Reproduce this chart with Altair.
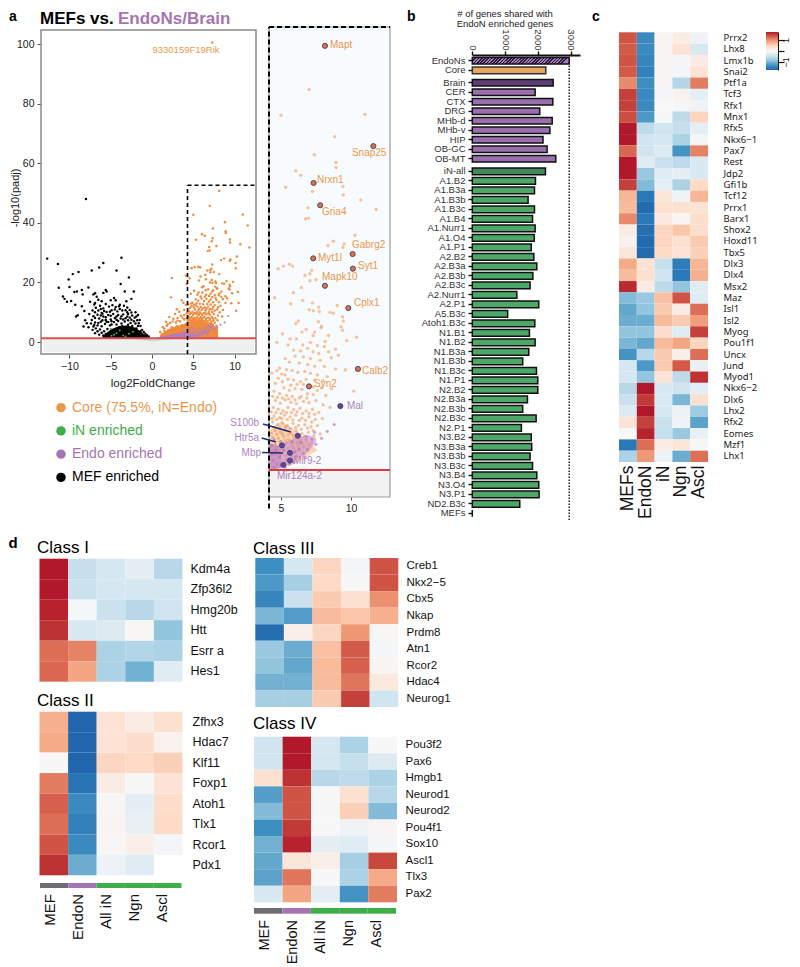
import altair as alt
import pandas as pd

W, H = 784, 959
PURPLE, ORANGE, GREEN = "#a575b2", "#e8984a", "#3fae49"
DIVERGING = ["#2166ac", "#4393c3", "#92c5de", "#d1e5f0", "#f7f7f7", "#fddbc7", "#f4a582", "#d6604d", "#b2182b"]
HEAT_DOMAIN = [-4, -3, -2, -1, 0, 1, 2, 3, 4]
COLS5 = ["MEFs", "EndoN", "iN", "Ngn", "Ascl"]

# ---------- panel a: volcano points ----------
BLACK_PTS = [(-8,48),(-12.7,28),(-11.4,26.2),(-3.7,28.3),(-5.9,26.5),(-6.4,25),(-7.3,24),(-8.9,23.5),(-9.6,22.8),(-10.1,21),
 (-4.3,24),(-2.8,21.7),(-3.8,19.5),(-11.3,18.2),(-10,18.5),(-9.4,16.8),(-9.1,17),(-8.5,17.5),(-8.4,16),(-7.7,18.3),(-7.1,16),
 (-7.5,13.5),(-5.5,17),(-5.6,17.5),(-5.9,16.5),(-3.3,17),(-2.2,17),(-2.5,14.5),(-4.6,14.8),(-4.4,14),(-10.8,15.3),(-10.6,14.5),
 (-10.3,13.5),(-9.8,13.8),(-9.3,12.5),(-8.5,12),(-9,9),(-9.2,8.6),(-8.1,7.3),(-6.9,16.4),(-6.7,15.2),(-6.5,14.2),(-6.1,13.7),
 (-7,12.6),(-6.8,11.5),(-7.2,10.6),(-6.9,10),(-6.3,12.2),(-5.9,11.3),(-5.6,12.8),(-5.2,11.9),(-4.8,12.4),(-4.4,11.8),(-3.9,12.5),
 (-3.4,12.2),(-3,11.6),(-2.7,10.8),(-3.6,10.6),(-4.2,10.3),(-4.9,10.7),(-5.5,10.1),(-6.1,9.8),(-6.6,9.2),(-7.1,8.7),(-7.3,7.4),
 (-6.9,6.6),(-6.4,7.9),(-5.9,8.6),(-5.3,9.1),(-4.7,9.4),(-4.1,9.1),(-3.5,9.3),(-2.9,9.4),(-2.4,8.9),(-2.1,8.2),(-1.8,7.3),(-2.5,7.5),
 (-3.2,8),(-3.8,7.9),(-4.5,8.1),(-5,7.6),(-5.6,7.4),(-6.2,6.8),(-6.6,5.6),(-6.1,5.3),(-5.7,6.1),(-5.3,6.7),(-7.1,5.2),(-6.8,4.6),
 (-6.3,4.2),(-5.8,3.6),(-5.4,4.4),(-1.6,6.3),(-1.4,5.4),(-1.2,4.1),(-2,10),(-1.7,9.1),(-3.1,13.7),(-5,14),(-6.9,13.1),(-7.6,9.4),
 (-8.2,10.4),(-4.1,7.1),(-3.3,6.9),(-2.6,6.4),(-5.1,5.6),(-4.6,6.7),(-3.7,6.2)]
BLACK_MORE = [(-6.5,10.6),(-6.2,11.1),(-5.8,10.4),(-5.1,10.2),(-4.5,10.9),(-3.9,11.1),(-3.2,10.7),(-2.5,9.9),(-6.9,8.1),(-6.2,8.9),(-5.6,8.3),(-5,8.8),
 (-4.3,8.6),(-3.7,8.7),(-3,8.6),(-2.7,8.2),(-1.9,8.6),(-1.5,7.4),(-7.4,6.2),(-7,5.7),(-6.5,6.4),(-6,7.3),(-5.5,6.8),(-4.9,7),(-4.3,7.5),(-3.5,7.6),
 (-2.9,7.3),(-2.2,7.0),(-2,6.2),(-1.7,5.4),(-7.2,4.1),(-6.6,3.6),(-6.1,3.1),(-5.6,2.7),(-6.9,3.0),(-6.4,2.5),(-5.9,2.2),(-5.4,2.0),(-5.1,3.4),(-4.8,2.5),
 (-4.9,5.9),(-4.3,5.9),(-3.6,5.4),(-2.9,5.8),(-2.4,5.4),(-1.9,4.6),(-1.4,3.6),(-1,3.4),(-0.8,2.8),(-0.6,2.3),(-0.4,1.9),(-1.2,2.6),(-1.7,3.3),(-2.3,3.6),
 (-3,3.2),(-3.6,2.7),(-4.2,2.2),(-4.7,1.7),(-5.2,1.6),(-2.6,2.6),(-1.9,2.2),(-3.3,1.8),(-2.4,1.7),(-4,1.6),(-7.7,5),(-7.9,6.3),(-8.3,5.2),(-6,9.5),(-4,12),(-3,10)]
BLACK_ENV_X = [-6.0, -5.0, -4.0, -3.0, -2.0, -1.5, -1.0, -0.5, -0.2]
BLACK_ENV_Y = [1.9, 4.2, 5.4, 5.6, 4.8, 3.8, 2.7, 1.8, 1.3]
GREEN_PTS = [(-5.8,7.2),(-5,4.5),(-4.3,3),(-4.6,2.5),(-3.5,2.2),(-3.2,1.9),(-4.9,2.1),(-2.8,2.8),(-2.3,3.5),(-3.9,3.9)]
PALE_X = [-3.2, -1.5, 0.0, 1.5, 3.2]
PALE_Y = [1.3, 0.8, 0.1, 0.6, 1.3]

ORANGE_TOP = [(7.0,45.7),(5.0,42.7),(11.0,42.8),(8.83,40.2),(7.38,38.1),(8.93,37.2),(8.93,36.6),(6.05,36.2),(6.4,35.7),(5.33,34.3),
 (9.43,34.4),(7.24,33.8),(9.45,33.4),(10.7,32.8),(6.93,31.9),(11.8,31.7),(6.76,30.6),(6.98,30.7),(10.29,28.7),(8.74,28),(8.36,27.5),
 (9.5,27.7),(9.43,27.3),(5.83,25.1),(5.6,25.3),(5.17,25.1),(4.79,24.8),(7.19,24.6),(7.07,24.2),(6.71,24.0),(7.5,23.5),(7.07,23.4),
 (6.45,22.6),(5.88,22),(4.55,21.4),(6.55,21.1),(7.24,20.8),(5.69,20.7),(7.02,20),(7.31,19.9),(7.69,20.3),(7.74,19.8),(8.5,19.7),
 (8.74,19.6),(9.02,20.5)]
ORANGE_MID = [(6.24,18.7),(6.07,18.4),(9.4,19.2),(9.45,18.7),(7.67,18.6),(7.9,18.1),(7.86,17.9),(9.29,18),(9.4,17.6),(6.8,17.7),(6.5,17.4),
 (5.1,17.2),(4.7,16.2),(5.65,16.6),(6.1,16.6),(6.55,15.9),(7.4,17.4),(7.3,17),(8.4,17),(10.4,16.8),(8.15,16.3),(9.7,16.4),(7.1,16.2),
 (7.6,15.8),(8.1,15.7),(5.5,15.9),(5.9,15.3),(6.4,15.2),(6.9,15.5),(7.3,15.1),(7.7,14.9),(8.4,15.1),(8.9,15.4),(9.1,14.7),(8.6,14.4),
 (6.0,14.6),(6.6,14.5),(7.1,14.3),(7.8,14.1),(5.3,14.3),(5.6,13.9),(6.3,13.8),(6.9,13.6),(7.4,13.4),(8.1,13.4),(8.9,13.1),(9.6,13.0),
 (4.9,13.2),(5.4,13.0),(5.8,12.9),(6.2,12.7),(6.7,12.8),(7.1,12.6),(7.6,12.4),(8.3,12.2),(8.0,11.7),(7.4,11.8),(6.8,11.9),(6.4,11.6),
 (5.9,11.8),(5.5,11.9),(5.1,11.6),(4.8,12),(4.6,11.4),(5.2,10.9),(5.6,10.6),(6.0,10.8),(6.5,10.7),(7.6,10.6),(7.9,10.9),(8.6,10.8),
 (6.9,10.2),(7.3,10.1),(8.2,10),(10.2,10.5),(4.5,10.5),(4.9,10.2),(5.4,10),(5.8,9.9),(6.3,9.7),(4.6,9.4),(4.95,9.1),(5.3,9.5),(5.7,9.2),
 (6.1,9.05),(6.6,9.3),(7.0,9.15),(7.5,9.4),(8.0,8.9),(8.5,8.6),(4.45,8.6),(4.8,8.4),(5.15,8.2),(5.5,8.6),(5.9,8.35),(6.35,8.5),(6.8,8.2),
 (7.25,8.4),(7.7,8.0),(4.5,7.6),(4.9,7.4),(5.25,7.7),(5.65,7.5),(6.05,7.7),(6.5,7.35),(7.0,7.5),(7.45,7.2),(7.95,7.3),(4.4,6.9),(4.75,6.6),
 (5.1,6.8),(5.45,6.5),(5.85,6.75),(6.25,6.5),(6.7,6.6),(7.15,6.35),(7.6,6.5),(4.55,5.9),(4.95,5.75),(5.3,5.95),(5.7,5.6),(6.1,5.85),
 (6.5,5.55),(6.95,5.7),(7.35,5.3),(7.8,5.5),(4.4,5.1),(4.8,5.0),(5.2,5.2),(5.55,4.85),(5.95,5.0),(6.35,4.75),(6.8,4.9),(7.2,4.5),(4.6,4.3),
 (5.0,4.2),(5.35,4.4),(5.8,4.1),(6.2,4.2),(6.6,4.0),(4.4,3.6),(4.8,3.4),(5.15,3.7),(5.55,3.3),(6.0,3.5)]
ORANGE_DENSE = [(4.35,12.6),(4.7,12.9),(5.05,12.5),(5.3,12.4),(5.7,11.2),(6.15,11.3),(6.6,11.3),(7.0,11.0),(7.3,11.0),(4.4,9.9),(4.75,9.8),(5.1,9.7),(5.55,9.6),
 (6.0,9.5),(6.45,9.9),(6.85,9.7),(4.3,8.1),(4.65,8.0),(5.0,7.9),(5.4,8.0),(5.75,8.0),(6.15,8.1),(6.55,7.9),(7.0,7.9),(7.4,7.8),(4.35,7.3),(4.7,7.2),(5.05,7.3),(5.45,7.2),
 (5.85,7.15),(6.3,7.1),(6.75,7.1),(7.2,6.9),(4.55,6.3),(4.9,6.2),(5.3,6.35),(5.65,6.15),(6.05,6.25),(6.45,6.05),(6.9,6.2),(7.3,5.9),(4.3,5.6),(4.7,5.45),(5.1,5.5),
 (5.5,5.4),(5.9,5.35),(6.3,5.3),(6.7,5.25),(4.5,4.7),(4.9,4.6),(5.3,4.75),(5.75,4.5),(6.15,4.55),(6.5,4.4),(7.0,4.2),(4.3,4.05),(4.7,3.9),(5.1,4.0),(5.5,3.85),(5.9,3.8),
 (6.3,3.8),(4.3,3.2),(4.65,3.1),(5.0,3.1),(5.35,3.0),(5.75,2.9)]
ORANGE_LOW = [(2.4,21.5),(4.1,22.3),(4.2,19.5),(2.3,15),(3.6,14),(3.8,13.2),(3,11),(4.1,12.5),(3.3,10.2),(2.8,9.4),(3.9,10.8),(4.2,9.7),(3.5,8.8),
 (2.1,8.4),(2.6,7.8),(3.1,8.1),(1.7,6.8),(2.2,6.4),(2.9,6.6),(3.4,7.0),(3.9,7.6),(4.2,8.0),(1.3,5),(1.8,5.5),(2.4,5.0),(3.0,5.3),(3.6,5.6),
 (4.1,6.0),(1.0,3.4),(1.5,3.8),(2.0,4.0),(2.7,4.1),(3.3,4.3),(3.8,4.6),(1.2,2.6),(1.8,2.9),(2.3,3.1),(2.9,3.3),(3.5,3.5),(4.1,3.9),(3.7,8.2),(3.1,7.2),(2.5,6.9),(1.9,6),(1.5,4.6),(3.9,9.1)]
PURPLE_PTS = [(9.24,8.76),(8.8,6.6),(8.3,5.8),(7.9,5.0),(7.5,4.3),(7.2,4.9),(6.9,3.7),(6.6,3.2),(6.3,3.7),(6.1,2.9),(5.9,2.2),(5.7,3.2),(5.4,2.5),
 (5.2,3.6),(4.9,2.8),(4.7,2.0),(4.45,2.4),(4.4,3.2),(4.6,3.6),(4.35,4.2),(5.0,1.8),(5.3,1.6),(5.6,2.0),(4.5,1.6),(6.4,4.5),(6.8,5.2),(7.4,5.7),
 (5.8,4.6),(5.0,4.6),(4.5,4.8),(6.0,3.4),(6.7,2.8)]
ORANGE_AREA_X = [1.0, 2.0, 3.0, 4.0, 5.0, 6.0, 7.0, 8.0]
ORANGE_AREA_Y = [2.5, 4.4, 5.4, 6.2, 7.2, 7.6, 6.2, 4.8]
PURPLE_AREA_X = [0.5, 1.0, 2.0, 3.0, 4.0, 5.0, 6.0, 7.0, 7.5]
PURPLE_AREA_TOP = [1.3, 1.9, 2.4, 3.0, 3.6, 4.4, 5.0, 5.4, 5.0]
PURPLE_AREA_LOW = [1.3, 1.3, 1.3, 1.3, 1.35, 1.6, 2.3, 3.5, 4.6]

HILITE_ORANGE = [("Mapt",8.14,50.8,8.5,50.9),("Snap25",11.6,39.1,10.07,38.3),("Nrxn1",7.33,34.8,7.57,35.1),("Gria4",7.8,32.2,7.93,31.4),
 ("Gabrg2",10.12,26.5,10.07,27.55),("Myt1l",7.3,26,7.64,26),("Syt1",10.14,24.8,10.5,25.1),("Mapk10",8.14,22.8,7.93,23.8),
 ("Cplx1",9.81,20.2,10.21,20.8),("Calb2",10.5,13.1,10.79,12.85),("Syn2",7,11.06,7.36,11.3)]
HILITE_PURPLE = [("Mal",9.24,8.76,9.71,8.77),("Mir9-2",5.64,2.4,5.86,2.35),("Mir124a-2",5.17,1.9,4.71,0.6)]
HILITE_PURPLE_PLAIN = [(5.64,3.3),(5.07,4.17),(6.2,5.3)]
LEFT_LABELS = [("S100b",3.43,6.78),("Htr5a",3.43,5.03),("Mbp",3.57,3.28)]
LEADERS = [(3.71,6.67,5.71,5.73),(3.62,5.03,4.64,4.57),(3.64,3.34,5.14,3.28)]

# ---------- panel b: bars ----------
B_G1, B_V1 = ["EndoNs", "Core"], [2960, 2245]
B_G2 = ["Brain","CER","CTX","DRG","MHb-d","MHb-v","HIP","OB-GC","OB-MT"]
B_V2 = [2470,1920,2460,2060,2440,2370,2160,2285,2550]
B_G3 = ["iN-all","A1.B2","A1.B3a","A1.B3b","A1.B3c","A1.B4","A1.Nurr1","A1.O4","A1.P1","A2.B2","A2.B3a","A2.B3b","A2.B3c","A2.Nurr1","A2.P1",
 "A5.B3c","Atoh1.B3c","N1.B1","N1.B2","N1.B3a","N1.B3b","N1.B3c","N1.P1","N2.B2","N2.B3a","N2.B3b","N2.B3c","N2.P1","N3.B2","N3.B3a",
 "N3.B3b","N3.B3c","N3.B4","N3.O4","N3.P1","ND2.B3c","MEFs"]
B_V3 = [2235,1930,1900,1705,1900,1840,1920,1890,1800,1880,1970,1850,1765,1360,2030,1080,1910,1745,1920,1725,1540,1960,2000,2000,1685,1540,
 1950,1500,1800,1815,1765,1840,1970,2030,2040,1450,0]

# ---------- panel c: heatmap ----------
C_ROWS = ["Prrx2","Lhx8","Lmx1b","Snai2","Ptf1a","Tcf3","Rfx1","Mnx1","Rfx5","Nkx6\u22121","Pax7","Rest","Jdp2","Gfi1b","Tcf12","Prrx1","Barx1",
 "Shox2","Hoxd11","Tbx5","Dlx3","Dlx4","Msx2","Maz","Isl1","Isl2","Myog","Pou1f1","Uncx","Jund","Myod1","Nkx6\u22122","Dlx6","Lhx2","Rfx2",
 "Eomes","Mzf1","Lhx1"]
C_VALS = [[3.2,-3.2,.1,.4,-.2],[3.1,-3.2,.1,.7,-.8],[3.2,-3.3,.1,-.1,.4],[3.1,-3.4,.1,-.1,.7],[2.4,-3.1,.1,-1.5,2.6],[3.5,-3.2,-.1,.2,-.5],
 [3.5,-3.2,0,-.1,-.2],[3.3,-2.9,0,-1.3,1.1],[4,-1.3,-1,-1.2,-.5],[4,-1,-.9,-1.6,-.1],[2.9,-1,-.7,-3,2.5],[4,-.6,-1.1,-1.3,-.8],[4,-1.9,-.6,-.5,-.8],
 [3.5,-2.2,-.5,-1.6,1],[1.7,-3.6,.6,-.2,1.7],[1.6,-3.9,.8,.8,.7],[2.4,-3.6,.5,.1,.9],[.4,-3.8,1.1,1.4,.9],[.2,-3.9,1.1,.8,1.3],[.6,-3.9,1,.7,1.2],
 [1.9,.7,-1.2,-3.5,1.7],[1.6,.8,-1,-3.6,1.8],[3.8,.4,-1.3,-2,-.6],[-2.2,-1.9,1.5,3.2,-.6],[-2.6,-2,1.3,.4,2.8],[-2.5,-2.5,1.6,1.3,2.1],
 [-2,-2,.9,-.6,3.5],[-2.3,-2.6,1.6,2,1.1],[-3,-1.4,1.3,.3,2.8],[-.9,-2.9,1.3,3.1,-.4],[-.9,-2,.7,-1.3,3.7],[-1.4,4,-.8,-1,-.5],[-1.1,3.6,-.8,-2.3,.8],
 [-.7,4,-.8,-.3,-1.8],[.7,3.5,-1.1,-.2,-2.7],[0,3.9,-1.2,-1.9,-.4],[-3.6,2.8,.4,.6,0],[-1.6,2.2,-.3,-2.5,2.8]]

# ---------- panel d: class heatmaps ----------
D1_ROWS = ["Kdm4a","Zfp36l2","Hmg20b","Htt","Esrr a","Hes1"]
D1_VALS = [[4,-1.2,-.9,-.5,-1.4],[4,-1.1,-.9,-.9,-.9],[3.9,-.05,-1.1,-1.4,-1],[3.7,-.8,-.7,.05,-2],[2.8,2.5,-1.6,-1.5,-1.6],[2.9,2,-1.6,-2.4,-.6]]
D2_ROWS = ["Zfhx3","Hdac7","Klf11","Foxp1","Atoh1","Tlx1","Rcor1","Pdx1"]
D2_VALS = [[1.8,-4,.7,.4,.8],[1.9,-4,.7,.9,.2],[0,-4,1.1,1,1.2],[2.6,-3.7,.4,0,.7],[3,-3.2,.05,-.5,.9],[2.8,-3.4,.1,-.4,1],[3.2,-3.2,.05,.3,-.1],[3.7,-2.5,-.3,-.6,None]]
D3_ROWS = ["Creb1","Nkx2\u22125","Cbx5","Nkap","Prdm8","Atn1","Rcor2","Hdac4","Neurog1"]
D3_VALS = [[-3.1,-.9,1.1,-.1,3.2],[-2.9,-1.7,1,0,3.2],[-3.3,-1.1,1.3,.8,2.3],[-2.3,-2.8,1.6,1.4,1.8],[-3.8,.3,1.1,2.2,.05],[-1.9,-2.5,1.5,3.1,-.1],
 [-2,-2.6,1.6,3,.1],[-2.4,-2.4,1.6,2.7,.5],[-1.7,-1.7,1.3,3.5,-1]]
D4_ROWS = ["Pou3f2","Pax6","Hmgb1","Neurod1","Neurod2","Pou4f1","Sox10","Ascl1","Tlx3","Pax2"]
D4_VALS = [[-1,4,-.9,-1.6,0],[-1,4,-.9,-1.2,-.7],[.8,3.7,-1.4,-1.3,-1.6],[-2.8,3.2,0,.8,-1.4],[-2.2,3.2,0,1.2,-2.2],[-3.1,3.6,0,-.2,.1],[-2.4,3.9,-.5,-.6,-.1],
 [-2.6,.6,.3,-1.7,3.4],[-2.7,2.7,0,-1.6,1.9],[-.8,2,-.5,-3,2.6]]
D_LABELS = ["MEF", "EndoN", "All iN", "Ngn", "Ascl"]
D_GROUPS = ["MEF", "Endo", "iN", "iN", "iN"]

LEGEND_CATS = ["Core (75.5%, iN=Endo)", "iN enriched", "Endo enriched", "MEF enriched"]
LEGEND_COLORS = [ORANGE, GREEN, PURPLE, "#000000"]


def qscale(domain, a, b):
    return alt.Scale(domain=domain, range=[a - 8, b - 8], nice=False, zero=False)


def text(s, x, y, size, color="black", weight="normal", align="left", angle=0, baseline="alphabetic"):
    return alt.Chart(pd.DataFrame({"t": [s]})).mark_text(
        align=align, baseline=baseline, fontSize=size, color=color, fontWeight=weight, angle=angle
    ).encode(x=alt.value(x - 8), y=alt.value(y - 8), text="t:N")


def pts(pairs, sx, sy, color, size, opacity=1.0, **kw):
    df = pd.DataFrame(pairs, columns=["x", "y"])
    return alt.Chart(df).mark_circle(size=size, color=color, opacity=opacity, **kw).encode(
        x=alt.X("x:Q", scale=sx, axis=None), y=alt.Y("y:Q", scale=sy, axis=None))


def area(xs, top, low, sx, sy, color, opacity=1.0):
    df = pd.DataFrame({"x": xs, "y": top, "y2": low})
    return alt.Chart(df).mark_area(color=color, opacity=opacity).encode(
        x=alt.X("x:Q", scale=sx, axis=None), y=alt.Y("y:Q", scale=sy, axis=None), y2="y2:Q")


def box(x0, x1, y0, y1, sx, sy, **kw):
    df = pd.DataFrame({"x0": [x0], "x1": [x1], "y0": [y0], "y1": [y1]})
    return alt.Chart(df).mark_rect(**kw).encode(
        x=alt.X("x0:Q", scale=sx, axis=None), x2="x1:Q",
        y=alt.Y("y0:Q", scale=sy, axis=None), y2="y1:Q")


def hline(v, x0, x1, sx, sy, **kw):
    df = pd.DataFrame({"x0": [x0], "x1": [x1], "y": [v]})
    return alt.Chart(df).mark_rule(**kw).encode(
        x=alt.X("x0:Q", scale=sx, axis=None), x2="x1:Q", y=alt.Y("y:Q", scale=sy, axis=None))


def vline(v, y0, y1, sx, sy, **kw):
    df = pd.DataFrame({"y0": [y0], "y1": [y1], "x": [v]})
    return alt.Chart(df).mark_rule(**kw).encode(
        y=alt.Y("y0:Q", scale=sy, axis=None), y2="y1:Q", x=alt.X("x:Q", scale=sx, axis=None))


layers = []

# ---- panel a main volcano
AX = qscale([-13.45, 12.6], 41, 256)
AY = qscale([-4.0, 104.7], 354, 30)
layers.append(box(-13.2, 12.35, -3.4, 1.3, AX, AY, color="#edf2f0"))
layers.append(area(PALE_X, [1.3] * 5, PALE_Y, AX, AY, "#cfe0d2"))
layers.append(area(BLACK_ENV_X, BLACK_ENV_Y, [1.3] * 9, AX, AY, "#000000"))
layers.append(area(ORANGE_AREA_X, ORANGE_AREA_Y, [1.3] * 8, AX, AY, "#f08a3c"))
layers.append(area(PURPLE_AREA_X, PURPLE_AREA_TOP, PURPLE_AREA_LOW, AX, AY, "#b17cc0"))
layers.append(pts(BLACK_PTS + BLACK_MORE, AX, AY, "#000000", 6))
layers.append(pts(GREEN_PTS, AX, AY, GREEN, 4))
all_orange = ORANGE_TOP + ORANGE_MID + ORANGE_DENSE + ORANGE_LOW + [(7.3, 100.5)]
all_orange += [(r[1], r[2]) for r in HILITE_ORANGE]
layers.append(pts(all_orange, AX, AY, "#f08a3c", 6))
layers.append(pts(PURPLE_PTS, AX, AY, "#b17cc0", 4))
axis_a_x = alt.Axis(orient="bottom", values=[-10, -5, 0, 5, 10], offset=-(H - 346), grid=False, domain=False, tickSize=4,
                    tickColor="#555", labelFontSize=10.5, labelColor="#222", title=None, labelPadding=3)
axis_a_y = alt.Axis(orient="left", values=[0, 20, 40, 60, 80, 100], offset=-33, grid=False, domain=False, tickSize=4,
                    tickColor="#555", labelFontSize=10.5, labelColor="#222", title=None, labelPadding=3)
frame_df = pd.DataFrame({"x0": [-13.45], "x1": [12.6], "y0": [-4.0], "y1": [104.7]})
layers.append(alt.Chart(frame_df).mark_rect(fillOpacity=0, stroke="#8a8a8a", strokeWidth=1.5).encode(
    x=alt.X("x0:Q", scale=AX, axis=axis_a_x), x2="x1:Q", y=alt.Y("y0:Q", scale=AY, axis=axis_a_y), y2="y1:Q"))
layers.append(hline(1.3, -13.45, 12.6, AX, AY, color="#dd4f50", strokeWidth=2))
layers.append(vline(4.3, -4, 52.6, AX, AY, color="black", strokeWidth=1.6, strokeDash=[4, 3]))
layers.append(hline(52.6, 4.3, 12.6, AX, AY, color="black", strokeWidth=1.6, strokeDash=[4, 3]))
layers.append(text("a", 9, 21, 14, weight="bold"))
layers.append(text("MEFs vs. ", 40, 24, 17, weight="bold"))
layers.append(text("EndoNs/Brain", 118, 24, 17, color=PURPLE, weight="bold"))
layers.append(text("9330159F19Rik", 186, 53, 9.5, color=ORANGE, align="center"))
layers.append(text("log2FoldChange", 153, 387, 11.5, align="center", color="#222"))
layers.append(text("-log10(padj)", 19, 198, 11, align="center", angle=270, color="#222"))

# legend of panel a
LEG_Y = alt.Scale(domain=LEGEND_CATS, range=[396 - 8, 489 - 8])
leg_df = pd.DataFrame({"c": LEGEND_CATS})
LEG_C = alt.Scale(domain=LEGEND_CATS, range=LEGEND_COLORS)
layers.append(alt.Chart(leg_df).mark_circle(size=90, opacity=1).encode(
    x=alt.value(61 - 8), y=alt.Y("c:N", scale=LEG_Y, axis=None), color=alt.Color("c:N", scale=LEG_C, legend=None)))
layers.append(alt.Chart(leg_df).mark_text(align="left", fontSize=14).encode(
    x=alt.value(72 - 8), y=alt.Y("c:N", scale=LEG_Y, axis=None), text="c:N", color=alt.Color("c:N", scale=LEG_C, legend=None)))

# ---- zoomed volcano
ZX = qscale([4.14, 12.79], 269, 390)
ZY = qscale([-1.85, 53.0], 497, 27)
layers.append(box(4.14, 12.79, 1.3, 53, ZX, ZY, color="#f8fbfd"))
layers.append(box(4.14, 12.79, -1.85, 1.3, ZX, ZY, color="#f1f2f1"))
layers.append(area([4.2, 5, 6, 7, 7.6], [6.0, 7.0, 6.0, 4.6, 3.6], [1.3, 1.5, 2, 3, 3.6], ZX, ZY, "#f6b179", 0.5))
layers.append(pts(ORANGE_TOP + ORANGE_MID + ORANGE_DENSE, ZX, ZY, "#f58f45", 11, 0.55))
layers.append(area(PURPLE_AREA_X[5:], PURPLE_AREA_TOP[5:], PURPLE_AREA_LOW[5:], ZX, ZY, "#c98bc4", 0.6))
layers.append(area([4.2, 4.6, 5.0], [4.4, 4.2, 4.2], [1.4, 1.4, 1.6], ZX, ZY, "#c07fc0", 0.75))
layers.append(pts(PURPLE_PTS[1:], ZX, ZY, "#b16fc0", 11, 0.6))
frame2 = pd.DataFrame({"x0": [4.14], "x1": [12.79], "y0": [-1.85], "y1": [53.0]})
axis_z_x = alt.Axis(orient="bottom", values=[5, 10], offset=-(H - 489), grid=False, domain=False, tickSize=3, tickColor="#555",
                    labelFontSize=10.5, labelColor="#222", title=None, labelPadding=3)
layers.append(alt.Chart(frame2).mark_rect(fillOpacity=0, stroke="#9a9a9a", strokeWidth=1.2).encode(
    x=alt.X("x0:Q", scale=ZX, axis=axis_z_x), x2="x1:Q", y=alt.Y("y0:Q", scale=ZY, axis=None), y2="y1:Q"))
layers.append(hline(1.3, 4.14, 12.79, ZX, ZY, color="#dd3a3f", strokeWidth=2))
layers.append(vline(4.14, -3.2, 53, ZX, ZY, color="black", strokeWidth=2, strokeDash=[5, 3]))
layers.append(hline(53, 4.14, 12.79, ZX, ZY, color="black", strokeWidth=2, strokeDash=[5, 3]))
lead_df = pd.DataFrame(LEADERS, columns=["x", "y", "x1", "y1"])
layers.append(alt.Chart(lead_df).mark_rule(color="#1f2a7a", strokeWidth=1.5).encode(
    x=alt.X("x:Q", scale=ZX, axis=None), x2="x1:Q", y=alt.Y("y:Q", scale=ZY, axis=None), y2="y1:Q"))
hi_o = pd.DataFrame(HILITE_ORANGE, columns=["t", "x", "y", "lx", "ly"])
hi_p = pd.DataFrame(HILITE_PURPLE, columns=["t", "x", "y", "lx", "ly"])
layers.append(alt.Chart(hi_o).mark_point(filled=True, size=26, fill="#e86f2c", stroke="#3d4a8a", strokeWidth=1, opacity=1).encode(
    x=alt.X("x:Q", scale=ZX, axis=None), y=alt.Y("y:Q", scale=ZY, axis=None)))
layers.append(alt.Chart(hi_p).mark_point(filled=True, size=26, fill="#6a3f97", stroke="#3d4a8a", strokeWidth=1, opacity=1).encode(
    x=alt.X("x:Q", scale=ZX, axis=None), y=alt.Y("y:Q", scale=ZY, axis=None)))
layers.append(alt.Chart(pd.DataFrame(HILITE_PURPLE_PLAIN, columns=["x", "y"])).mark_point(
    filled=True, size=26, fill="#6a3f97", stroke="#3d4a8a", strokeWidth=1, opacity=1).encode(
    x=alt.X("x:Q", scale=ZX, axis=None), y=alt.Y("y:Q", scale=ZY, axis=None)))
layers.append(alt.Chart(hi_o).mark_text(align="left", fontSize=10, color=ORANGE).encode(
    x=alt.X("lx:Q", scale=ZX, axis=None), y=alt.Y("ly:Q", scale=ZY, axis=None), text="t:N"))
layers.append(alt.Chart(hi_p).mark_text(align="left", fontSize=10, color="#ad84bd").encode(
    x=alt.X("lx:Q", scale=ZX, axis=None), y=alt.Y("ly:Q", scale=ZY, axis=None), text="t:N"))
layers.append(alt.Chart(pd.DataFrame(LEFT_LABELS, columns=["t", "x", "y"])).mark_text(align="right", fontSize=10, color="#ad84bd").encode(
    x=alt.X("x:Q", scale=ZX, axis=None), y=alt.Y("y:Q", scale=ZY, axis=None), text="t:N"))

# ---- panel b
BX = qscale([0, 3290], 472.3, 580)
stripes = []
for i in range(30):
    stripes += [alt.GradientStop(offset=i / 30, color="#2b1a3c"), alt.GradientStop(offset=(i + 0.5) / 30, color="#2b1a3c"),
                alt.GradientStop(offset=(i + 0.5) / 30, color="#a878bd"), alt.GradientStop(offset=(i + 1) / 30, color="#a878bd")]
HATCH = alt.LinearGradient(gradient="linear", stops=stripes, x1=0, y1=0, x2=1, y2=0.07)


def bars(names, vals, y0, y1, fill, stroke="#111", show_axis=True):
    df = pd.DataFrame([{"g": g, "v": v} for g, v in zip(names, vals) if v is not None])
    sy = alt.Scale(domain=names, range=[y0 - 8, y1 - 8], paddingInner=0.3, paddingOuter=0.15)
    ax = None
    if show_axis:
        ax = alt.Axis(orient="left", offset=-(472 - 8), domain=False, tickSize=4, tickWidth=1.4, tickColor="#111", labelFontSize=9.5,
                      labelColor="#333", labelPadding=3, title=None, grid=False, labelOverlap=False)
    return alt.Chart(df).mark_bar(color=fill, stroke=stroke, strokeWidth=1.5).encode(
        x=alt.X("v:Q", scale=BX, axis=None), y=alt.Y("g:N", scale=sy, axis=ax, sort=names))


layers.append(bars(B_G1, [B_V1[0], None], 56, 75.1, HATCH, show_axis=False))
layers.append(bars(B_G1, [None, B_V1[1]], 56, 75.1, "#e8a560", stroke="#333"))
layers.append(bars(B_G2, [B_V2[0]] + [None] * 8, 78, 163.5, "#5d3f74", show_axis=False))
layers.append(bars(B_G2, [None] + B_V2[1:], 78, 163.5, "#9a6fb0"))
layers.append(bars(B_G3, [B_V3[0]] + [None] * 36, 166.55, 518.05, "#3f8a58", show_axis=False))
layers.append(bars(B_G3, [None] + B_V3[1:], 166.55, 518.05, "#4da868"))
layers.append(vline(2960, 0, 1, BX, alt.Scale(domain=[0, 1], range=[520 - 8, 62 - 8]), color="#111", strokeWidth=1.4, strokeDash=[1.5, 1.5]))
axis_b = alt.Axis(orient="top", values=[0, 1000, 2000, 3000], format="d", offset=-(55 - 8), grid=False, domainWidth=2, domainColor="#111", tickSize=4,
                  tickWidth=1.4, tickColor="#111", labelAngle=90, labelAlign="right", labelBaseline="middle", labelFontSize=9.5,
                  labelColor="#333", labelPadding=1, title=None, labelOverlap=False, labelFlush=False)
layers.append(alt.Chart(pd.DataFrame({"v": [0]})).mark_point(opacity=0).encode(x=alt.X("v:Q", scale=BX, axis=axis_b), y=alt.value(47)))
layers.append(text("b", 407, 21, 14, weight="bold"))
layers.append(text("# of genes shared with", 505, 17, 9.5, align="center", color="#222"))
layers.append(text("EndoN enriched genes", 505, 27, 9.5, align="center", color="#222"))


# ---- heatmaps
def long(rows, vals, cols=COLS5):
    return pd.DataFrame([{"r": r, "c": c, "v": v} for r, row in zip(rows, vals) for c, v in zip(cols, row) if v is not None])


HEAT_COLOR = alt.Scale(domain=HEAT_DOMAIN, range=DIVERGING)


def heat(rows, vals, x0, x1, y0, y1, label_x, size, font="Liberation Sans"):
    sx = alt.Scale(domain=COLS5, range=[x0 - 8, x1 - 8])
    sy = alt.Scale(domain=rows, range=[y0 - 8, y1 - 8])
    ax = alt.Axis(orient="right", offset=-(W - (x1 - 8)), domain=False, ticks=False, grid=False, title=None, labelFontSize=size, labelFont=font,
                  labelColor="#111", labelPadding=label_x - x1, labelOverlap=False)
    return alt.Chart(long(rows, vals)).mark_rect().encode(
        x=alt.X("c:N", scale=sx, axis=None, sort=COLS5), y=alt.Y("r:N", scale=sy, axis=ax, sort=rows),
        color=alt.Color("v:Q", scale=HEAT_COLOR, legend=None))


def annot(x0, x1, y0, y1):
    df = pd.DataFrame({"c": COLS5, "g": D_GROUPS})
    sx = alt.Scale(domain=COLS5, range=[x0 - 8, x1 - 8])
    return alt.Chart(df).mark_rect(y=y0 - 8, y2=y1 - 8).encode(
        x=alt.X("c:N", scale=sx, axis=None, sort=COLS5),
        color=alt.Color("g:N", scale=alt.Scale(domain=["MEF", "Endo", "iN"], range=["#6d6e71", PURPLE, GREEN]), legend=None))


def bottom_labels(x0, x1, y, size=15):
    df = pd.DataFrame({"t": D_LABELS})
    sx = alt.Scale(domain=D_LABELS, range=[x0 - 8, x1 - 8])
    return alt.Chart(df).mark_text(angle=270, align="right", baseline="middle", fontSize=size, color="#111").encode(
        x=alt.X("t:N", scale=sx, axis=None, sort=D_LABELS), y=alt.value(y - 8), text="t:N")


# panel c
sx_c = alt.Scale(domain=COLS5, range=[619 - 8, 708 - 8])
sy_c = alt.Scale(domain=C_ROWS, range=[32.3 - 8, 462 - 8])
ax_c_y = alt.Axis(orient="right", offset=-(W - (708 - 8)), domain=False, ticks=False, grid=False, title=None, labelFontSize=9.5, labelFont="Noto Sans",
                  labelColor="#222", labelPadding=15, labelOverlap=False)
ax_c_x = alt.Axis(orient="bottom", offset=-(H - (462 - 8)), domain=False, ticks=False, grid=False, title=None, labelFontSize=17.5, labelAngle=270,
                  labelAlign="right", labelBaseline="middle", labelColor="#111", labelPadding=3, labelOverlap=False)
layers.append(alt.Chart(long(C_ROWS, C_VALS)).mark_rect().encode(
    x=alt.X("c:N", scale=sx_c, axis=ax_c_x, sort=COLS5), y=alt.Y("r:N", scale=sy_c, axis=ax_c_y, sort=C_ROWS),
    color=alt.Color("v:Q", scale=HEAT_COLOR, legend=None)))
layers.append(text("c", 592, 21, 14, weight="bold"))

# colour bar
CB_Y = qscale([-1.73, 1.73], 70, 32)
cb_grad = alt.LinearGradient(gradient="linear", x1=0, y1=1, x2=0, y2=0,
                             stops=[alt.GradientStop(offset=i / 8, color=c) for i, c in enumerate(DIVERGING)])
ax_cb = alt.Axis(orient="right", values=[-1, 0, 1], offset=-(W - (778 - 8)), domainColor="#111", domainWidth=1, tickColor="#111", tickSize=6, tickWidth=1.2,
                 grid=False, title=None, labelAngle=270, labelAlign="center", labelBaseline="middle", labelFontSize=9, labelColor="#111", labelPadding=1,
                 labelExpr="datum.value == 0 ? '' : (datum.value < 0 ? '\u22121' : '1')", labelOverlap=False)
layers.append(alt.Chart(pd.DataFrame({"a": [-1.73], "b": [1.73]})).mark_rect(color=cb_grad).encode(
    x=alt.value(766 - 8), x2=alt.value(778 - 8), y=alt.Y("a:Q", scale=CB_Y, axis=ax_cb), y2="b:Q"))

# panel d
layers.append(text("d", 8.5, 548, 15, weight="bold"))
layers.append(text("Class I", 37, 553, 17))
layers.append(heat(D1_ROWS, D1_VALS, 39.5, 182.5, 558.7, 681.7, 190, 12.5))
layers.append(text("Class II", 37, 705.5, 17))
layers.append(heat(D2_ROWS, D2_VALS, 39.5, 182.5, 711.7, 875.3, 192, 12.5))
layers.append(annot(40, 181.5, 883, 888))
layers.append(bottom_labels(36, 176, 894))
layers.append(text("Class III", 253, 554, 17))
layers.append(heat(D3_ROWS, D3_VALS, 255.3, 398.3, 558, 707, 406, 11.5))
layers.append(text("Class IV", 253, 729, 17))
layers.append(heat(D4_ROWS, D4_VALS, 254, 397, 736.7, 902.3, 405, 11.5))
layers.append(annot(254, 396, 908, 913.7))
layers.append(bottom_labels(251, 391, 920, size=14.5))

chart = alt.layer(*layers).resolve_scale(x="independent", y="independent", color="independent").properties(
    width=W, height=H, autosize=alt.AutoSizeParams(type="none"), padding=0
).configure(font="Liberation Sans").configure_view(strokeWidth=0)

chart.save("out.html", embed_options={"renderer": "svg", "actions": False})
